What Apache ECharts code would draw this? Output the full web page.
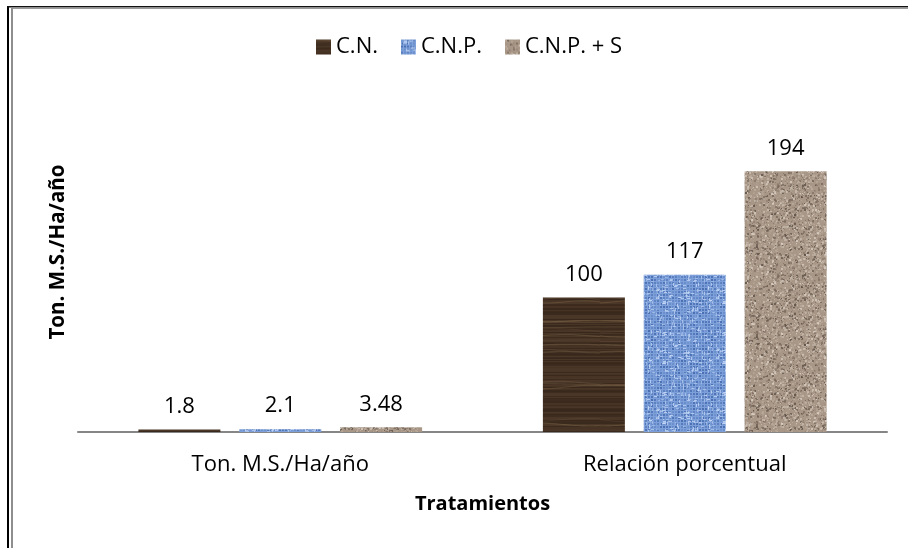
<!DOCTYPE html>
<html>
<head>
<meta charset="utf-8">
<style>
  html, body { margin: 0; padding: 0; background: #fff; }
  #chart { width: 908px; height: 548px; }
</style>
<script src="https://cdn.jsdelivr.net/npm/echarts@6/dist/echarts.min.js"></script>
</head>
<body>
<div id="chart"></div>
<script>
// Categories and values per treatment
var categories = ['Ton. M.S./Ha/año', 'Relación porcentual'];
var seriesNames = ['C.N.', 'C.N.P.', 'C.N.P. + S'];
var valuesCN = [1.8, 100];
var valuesCNP = [2.1, 117];
var valuesCNPS = [3.48, 194];

var FONT = '"Open Sans", "Noto Sans", sans-serif';

// Small deterministic generator used only for texture fills
function prng(seed) {
  return function () {
    seed |= 0; seed = seed + 0x6D2B79F5 | 0;
    var t = Math.imul(seed ^ seed >>> 15, 1 | seed);
    t = t + Math.imul(t ^ t >>> 7, 61 | t) ^ t;
    return ((t ^ t >>> 14) >>> 0) / 4294967296;
  };
}

// Dark wood grain texture
function woodTexture() {
  var c = document.createElement('canvas');
  c.width = 120; c.height = 160;
  var g = c.getContext('2d');
  var r = prng(11);
  g.fillStyle = '#433022';
  g.fillRect(0, 0, c.width, c.height);
  for (var y = 0; y < c.height; y++) {
    var v = r();
    g.fillStyle = 'rgba(' + (v > 0.5 ? '88,68,50' : '38,27,18') + ',' + (0.15 + 0.25 * r()).toFixed(2) + ')';
    g.fillRect(0, y, c.width, 1);
  }
  for (var i = 0; i < 16; i++) {
    var y0 = r() * c.height, amp = 0.5 + r() * 1.5, per = 60 + r() * 120;
    g.strokeStyle = 'rgba(130,106,78,' + (0.2 + 0.35 * r()).toFixed(2) + ')';
    g.lineWidth = 0.6 + r() * 1.2;
    g.beginPath();
    for (var x = 0; x <= c.width; x += 4) {
      var yy = y0 + amp * Math.sin(x / per * Math.PI * 2 + i);
      if (x === 0) g.moveTo(x, yy); else g.lineTo(x, yy);
    }
    g.stroke();
  }
  return c;
}

// Blue woven canvas texture
function weaveTexture() {
  var c = document.createElement('canvas');
  c.width = 60; c.height = 60;
  var g = c.getContext('2d');
  var r = prng(23);
  g.fillStyle = '#7da0da';
  g.fillRect(0, 0, c.width, c.height);
  for (var y = 0; y < c.height; y += 3) {
    for (var x = 0; x < c.width; x += 3) {
      var a = 0.1 + 0.5 * r();
      g.fillStyle = 'rgba(40,78,150,' + a.toFixed(2) + ')';
      g.fillRect(x, y, 2, 2);
    }
  }
  for (var k = 0; k < 220; k++) {
    var px = Math.floor(r() * c.width), py = Math.floor(r() * c.height);
    g.fillStyle = 'rgba(200,218,248,' + (0.35 + 0.45 * r()).toFixed(2) + ')';
    if (r() > 0.5) g.fillRect(px, py, 3, 1); else g.fillRect(px, py, 1, 3);
  }
  return c;
}

// Beige granite speckle texture
function graniteTexture() {
  var c = document.createElement('canvas');
  c.width = 90; c.height = 90;
  var g = c.getContext('2d');
  var r = prng(37);
  g.fillStyle = '#a89686';
  g.fillRect(0, 0, c.width, c.height);
  var palette = ['#76675b', '#cbbfb2', '#8d7d6f', '#bcae9f', '#5a4d43', '#b1a191', '#ddd3c8'];
  for (var k = 0; k < 2400; k++) {
    var px = r() * c.width, py = r() * c.height, s = 1 + Math.floor(r() * 2);
    g.fillStyle = palette[Math.floor(r() * palette.length)];
    g.globalAlpha = 0.35 + 0.45 * r();
    g.fillRect(Math.floor(px), Math.floor(py), s, s);
  }
  g.globalAlpha = 1;
  return c;
}

var fills = [
  { image: woodTexture(), repeat: 'repeat' },
  { image: weaveTexture(), repeat: 'repeat' },
  { image: graniteTexture(), repeat: 'repeat' }
];
var seriesValues = [valuesCN, valuesCNP, valuesCNPS];

var chart = echarts.init(document.getElementById('chart'), null, { renderer: 'canvas' });

var series = seriesNames.map(function (name, i) {
  return {
    name: name,
    type: 'bar',
    data: seriesValues[i],
    barWidth: 82,
    barGap: '23%',
    itemStyle: { color: fills[i] },
    label: {
      show: true,
      position: 'top',
      distance: 12,
      color: '#000',
      fontFamily: FONT,
      fontSize: 22
    }
  };
});

chart.setOption({
  animation: false,
  backgroundColor: '#fff',
  textStyle: { fontFamily: FONT },
  legend: {
    data: seriesNames,
    left: 316,
    top: 36,
    padding: 0,
    icon: 'rect',
    itemWidth: 15,
    itemHeight: 15,
    itemGap: 23,
    textStyle: { color: '#000', fontSize: 22, fontFamily: FONT }
  },
  grid: { left: 78, right: 21, top: 96, bottom: 116 },
  xAxis: {
    type: 'category',
    data: categories,
    axisLine: { lineStyle: { color: '#868686', width: 2 } },
    axisTick: { show: false },
    axisLabel: { color: '#000', fontSize: 22, fontFamily: FONT, margin: 22 },
    name: 'Tratamientos',
    nameLocation: 'middle',
    nameGap: 62,
    nameTextStyle: { color: '#000', fontSize: 20, fontWeight: 'bold', fontFamily: FONT }
  },
  yAxis: {
    type: 'value',
    min: 0,
    max: 250,
    axisLine: { show: false },
    axisTick: { show: false },
    axisLabel: { show: false },
    splitLine: { show: false }
  },
  graphic: [
    // outer frame: black rule with a grey inner rule
    { type: 'rect', shape: { x: 7, y: 6, width: 2, height: 542 }, style: { fill: '#000' }, silent: true },
    { type: 'rect', shape: { x: 7, y: 6, width: 901, height: 1.5 }, style: { fill: '#111' }, silent: true },
    { type: 'rect', shape: { x: 11, y: 7.5, width: 897, height: 1.5 }, style: { fill: '#9a9a9a' }, silent: true },
    { type: 'rect', shape: { x: 11, y: 7.5, width: 2, height: 541 }, style: { fill: '#8e8e8e' }, silent: true },
    // vertical axis title
    {
      type: 'text',
      x: 58, y: 252,
      rotation: Math.PI / 2,
      silent: true,
      style: {
        text: 'Ton. M.S./Ha/año',
        fill: '#000',
        font: 'bold 20.5px ' + FONT,
        align: 'center',
        verticalAlign: 'middle'
      }
    }
  ],
  series: series
});
</script>
</body>
</html>
